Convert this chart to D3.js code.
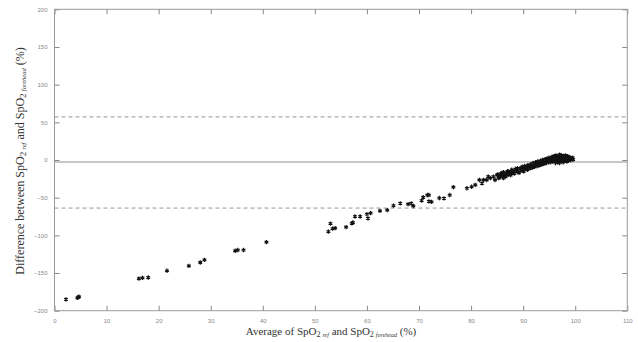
<!DOCTYPE html>
<html>
<head>
<meta charset="utf-8">
<script src="https://cdn.jsdelivr.net/npm/d3@7"></script>
<style>
  body { margin: 0; background: #fff; }
  svg { display: block; }
  .tick-label { font-family: "Liberation Sans", Arial, sans-serif; font-size: 6px; fill: #888; }
  .title { font-family: "Liberation Serif", "Times New Roman", serif; fill: #333; }
</style>
</head>
<body>
<svg id="chart"></svg>
<script>
// tick values
const xTicks = [0, 10, 20, 30, 40, 50, 60, 70, 80, 90, 100, 110];
const yTicks = [-200, -150, -100, -50, 0, 50, 100, 150, 200];

// bias and limits of agreement
const meanDiff = -2.7;
const upperLimit = 57.2;
const lowerLimit = -63.8;

// sparse points [average, difference]
const sparsePoints = [
  [2.2, -185], [4.4, -183], [4.6, -182], [4.7, -181.5],
  [16.2, -157.5], [16.9, -156.5], [18.0, -156], [21.6, -147],
  [25.8, -140.5], [28.0, -136], [28.8, -132.5],
  [34.7, -120.5], [35.2, -119.5], [36.3, -119.5], [40.7, -109],
  [52.6, -95], [53.0, -84.5], [53.4, -91], [53.9, -90.5],
  [56.0, -89], [57.1, -84], [57.3, -83], [57.7, -75], [58.7, -75],
  [60.0, -72], [60.2, -77.5], [60.7, -70.5], [62.5, -67.5], [63.9, -66.5],
  [65.1, -60.5], [66.4, -57.5], [67.9, -58.5], [68.5, -57.5], [68.9, -61],
  [70.5, -54], [70.8, -49.5], [71.6, -46.5], [71.9, -46.5], [71.9, -55],
  [72.4, -55.5], [73.9, -50.5], [74.8, -51], [75.9, -46.5],
  [76.6, -36], [79.2, -37.5], [80.1, -35.5], [80.8, -33], [81.6, -26.5],
  [82.1, -31], [82.4, -26.5], [83.0, -26.5], [83.3, -22], [83.7, -24],
  [84.3, -22], [84.6, -26.5], [85.0, -20], [85.3, -24], [85.6, -21],
  [85.9, -17.5], [86.2, -24], [86.9, -20], [87.2, -15.5], [87.5, -17.5]
];

// dense points near the top of the range
const densePoints = [
  [85.1, -19], [85.4, -23], [85.7, -18], [85.9, -21], [86.2, -16], [86.4, -20],
  [86.6, -22], [86.8, -17], [87.0, -15], [87.2, -19], [87.4, -16], [87.6, -20],
  [87.8, -13], [88.0, -17], [88.2, -15], [88.3, -18], [88.5, -12], [88.7, -15],
  [88.9, -11], [89.0, -14], [89.2, -17], [89.4, -11], [89.6, -14], [89.8, -9],
  [89.9, -12], [90.1, -15], [90.3, -8], [90.4, -11], [90.6, -10], [90.8, -13],
  [90.9, -7], [91.1, -9], [91.3, -11], [91.4, -6], [91.6, -8], [91.8, -10],
  [91.9, -4], [92.1, -7], [92.2, -9], [92.4, -3], [92.5, -6], [92.7, -8],
  [92.8, -2], [93.0, -5], [93.1, -7], [93.3, -1], [93.4, -4], [93.6, -6],
  [93.7, 0], [93.9, -3], [94.0, -5], [94.2, 1], [94.3, -2], [94.5, -4],
  [94.6, 2], [94.8, -1], [94.9, -3], [95.0, 3], [95.2, 0], [95.3, -3],
  [95.5, 4], [95.6, 1], [95.7, -2], [95.9, 5], [96.0, 2], [96.1, -1],
  [96.2, -4], [96.3, 6], [96.4, 3], [96.5, 0], [96.6, -3], [96.7, 5],
  [96.8, 2], [96.9, -1], [97.0, 7], [97.1, 4], [97.2, 1], [97.3, -2],
  [97.4, 6], [97.5, 3], [97.6, 0], [97.7, -3], [97.8, 5], [97.9, 2],
  [98.0, -1], [98.1, 6], [98.2, 3], [98.3, 0], [98.4, -2], [98.5, 5],
  [98.6, 2], [98.7, -1], [98.8, 4], [98.9, 1], [99.0, 3], [99.1, 0],
  [99.2, 2], [99.4, 1], [99.5, 3], [99.6, 0.5],
  [95.8, -0.5], [96.3, 1.5], [97.3, 2.5], [98.2, 1], [97.7, 4], [96.8, -2],
  [95.4, 2], [98.6, 3.5], [99.3, 2.5], [97.0, -4], [96.0, 4.5], [94.4, -0.5]
];

const dataSet = sparsePoints.concat(densePoints);

// graph dimensions
const width = 638;
const height = 342;
const plotLeft = 54.5;
const plotRight = 627.3;
const plotTop = 9.3;
const plotBottom = 310.7;
const tickLen = 5;

const svg = d3.select("#chart").attr("width", width).attr("height", height);

const xScale = d3.scaleLinear().domain([0, 110]).range([plotLeft, plotRight]);
const yScale = d3.scaleLinear().domain([-200, 200]).range([plotBottom, plotTop]);

const drawAxes = () => {
  // bottom + top ticks (inside)
  svg.append("g")
    .attr("transform", "translate(0," + plotBottom + ")")
    .call(d3.axisBottom(xScale).tickValues(xTicks).tickSizeInner(-tickLen).tickSizeOuter(0).tickPadding(8))
    .call((g) => g.select(".domain").remove())
    .call((g) => g.selectAll("line").attr("stroke", "#888"))
    .call((g) => g.selectAll("text").attr("class", "tick-label").attr("fill", null));

  svg.append("g")
    .attr("transform", "translate(0," + plotTop + ")")
    .call(d3.axisTop(xScale).tickValues(xTicks).tickSizeInner(-tickLen).tickSizeOuter(0).tickFormat(""))
    .call((g) => g.select(".domain").remove())
    .call((g) => g.selectAll("line").attr("stroke", "#888"));

  // left + right ticks (inside)
  svg.append("g")
    .attr("transform", "translate(" + plotLeft + ",0)")
    .call(d3.axisLeft(yScale).tickValues(yTicks).tickSizeInner(-tickLen).tickSizeOuter(0).tickPadding(7))
    .call((g) => g.select(".domain").remove())
    .call((g) => g.selectAll("line").attr("stroke", "#888"))
    .call((g) => g.selectAll("text").attr("class", "tick-label").attr("fill", null));

  svg.append("g")
    .attr("transform", "translate(" + plotRight + ",0)")
    .call(d3.axisRight(yScale).tickValues(yTicks).tickSizeInner(-tickLen).tickSizeOuter(0).tickFormat(""))
    .call((g) => g.select(".domain").remove())
    .call((g) => g.selectAll("line").attr("stroke", "#888"));

  // box
  svg.append("rect")
    .attr("x", plotLeft)
    .attr("y", plotTop)
    .attr("width", plotRight - plotLeft)
    .attr("height", plotBottom - plotTop)
    .attr("fill", "none")
    .attr("stroke", "#999")
    .attr("stroke-width", 1);
};

const drawLines = () => {
  svg.append("line")
    .attr("x1", plotLeft).attr("x2", plotRight)
    .attr("y1", yScale(meanDiff)).attr("y2", yScale(meanDiff))
    .attr("stroke", "#b4b4b4")
    .attr("stroke-width", 1.6);

  [upperLimit, lowerLimit].forEach((v) => {
    svg.append("line")
      .attr("x1", plotLeft).attr("x2", plotRight)
      .attr("y1", yScale(v)).attr("y2", yScale(v))
      .attr("stroke", "#8a8a8a")
      .attr("stroke-width", 0.9)
      .attr("stroke-dasharray", "4,3");
  });
};

const drawDots = () => {
  const shape = d3.symbolAsterisk || d3.symbolCross;
  svg.append("g")
    .selectAll("path")
    .data(dataSet)
    .enter()
    .append("path")
    .attr("transform", (d) => "translate(" + xScale(d[0]) + "," + yScale(d[1]) + ")")
    .attr("d", d3.symbol().type(shape).size(13))
    .attr("fill", d3.symbolAsterisk ? "none" : "#111")
    .attr("stroke", "#111")
    .attr("stroke-width", 1.2);
};

const drawTitles = () => {
  const xt = svg.append("text")
    .attr("class", "title")
    .attr("x", 331)
    .attr("y", 335)
    .attr("text-anchor", "middle")
    .attr("font-size", 11);
  xt.append("tspan").text("Average of SpO");
  xt.append("tspan").attr("font-size", 8).attr("dy", 2).text("2 ");
  xt.append("tspan").attr("font-size", 6).attr("font-style", "italic").text("ref");
  xt.append("tspan").attr("dy", -2).text(" and SpO");
  xt.append("tspan").attr("font-size", 8).attr("dy", 2).text("2 ");
  xt.append("tspan").attr("font-size", 6).attr("font-style", "italic").text("forehead");
  xt.append("tspan").attr("dy", -2).text(" (%)");

  const yt = svg.append("text")
    .attr("class", "title")
    .attr("transform", "translate(24,161) rotate(-90)")
    .attr("text-anchor", "middle")
    .attr("font-size", 12);
  yt.append("tspan").text("Difference between SpO");
  yt.append("tspan").attr("font-size", 9).attr("dy", 2).text("2 ");
  yt.append("tspan").attr("font-size", 6.5).attr("font-style", "italic").text("ref");
  yt.append("tspan").attr("dy", -2).text(" and SpO");
  yt.append("tspan").attr("font-size", 9).attr("dy", 2).text("2 ");
  yt.append("tspan").attr("font-size", 6.5).attr("font-style", "italic").text("forehead");
  yt.append("tspan").attr("dy", -2).text(" (%)");
};

drawAxes();
drawLines();
drawDots();
drawTitles();
</script>
</body>
</html>
